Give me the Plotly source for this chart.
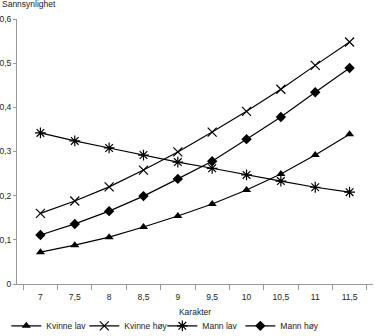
import plotly.graph_objects as go

karakter = ["7", "7,5", "8", "8,5", "9", "9,5", "10", "10,5", "11", "11,5"]
kvinne_lav = [0.072, 0.088, 0.106, 0.129, 0.154, 0.181, 0.213, 0.249, 0.292, 0.339]
kvinne_hoy = [0.160, 0.188, 0.220, 0.258, 0.299, 0.344, 0.391, 0.441, 0.495, 0.548]
mann_lav = [0.342, 0.324, 0.308, 0.292, 0.276, 0.262, 0.247, 0.233, 0.219, 0.208]
mann_hoy = [0.111, 0.136, 0.165, 0.199, 0.238, 0.278, 0.328, 0.378, 0.434, 0.489]
y_ticks = [0, 0.1, 0.2, 0.3, 0.4, 0.5, 0.6]
y_ticktext = ["0", "0,1", "0,2", "0,3", "0,4", "0,5", "0,6"]

series = [
    ("Kvinne lav", kvinne_lav, "triangle-up", 8, 0),
    ("Kvinne høy", kvinne_hoy, "x-thin-open", 9, 1.2),
    ("Mann lav", mann_lav, "asterisk-open", 9, 1.2),
    ("Mann høy", mann_hoy, "diamond", 8, 0),
]

fig = go.Figure()
for name, vals, sym, size, lw in series:
    fig.add_trace(go.Scatter(
        x=karakter, y=vals, name=name, mode="lines+markers",
        line=dict(color="black", width=1.2),
        marker=dict(symbol=sym, size=size, color="black",
                    line=dict(color="black", width=lw)),
    ))

font = "Liberation Sans, Arial, sans-serif"
fig.update_layout(
    width=375, height=336,
    margin=dict(l=17, r=2, t=19, b=52, autoexpand=False),
    paper_bgcolor="white", plot_bgcolor="white",
    font=dict(family=font, size=8.5, color="#222"),
    showlegend=True,
    legend=dict(orientation="h", x=-0.03, xanchor="left", y=-0.158, yanchor="middle",
                font=dict(size=8.5), itemwidth=30, tracegroupgap=0, entrywidth=33),
    xaxis=dict(type="category", showline=True, linecolor="#999", linewidth=1,
               ticks="outside", tickson="boundaries", ticklen=5, tickcolor="#999",
               ticklabelstandoff=5,
               showgrid=False, zeroline=False,
               title=dict(text="Karakter", font=dict(size=8.5), standoff=7)),
    yaxis=dict(range=[0, 0.6], tickvals=y_ticks, ticktext=y_ticktext,
               showline=True, linecolor="#999", linewidth=1,
               ticks="outside", ticklen=3, tickcolor="#999",
               showgrid=False, zeroline=False),
    annotations=[dict(text="Sannsynlighet", xref="paper", yref="paper",
                      x=-0.048, y=1.0, yshift=8, xanchor="left", yanchor="bottom",
                      showarrow=False, font=dict(size=8.5))],
)

fig.write_html("out.html")
